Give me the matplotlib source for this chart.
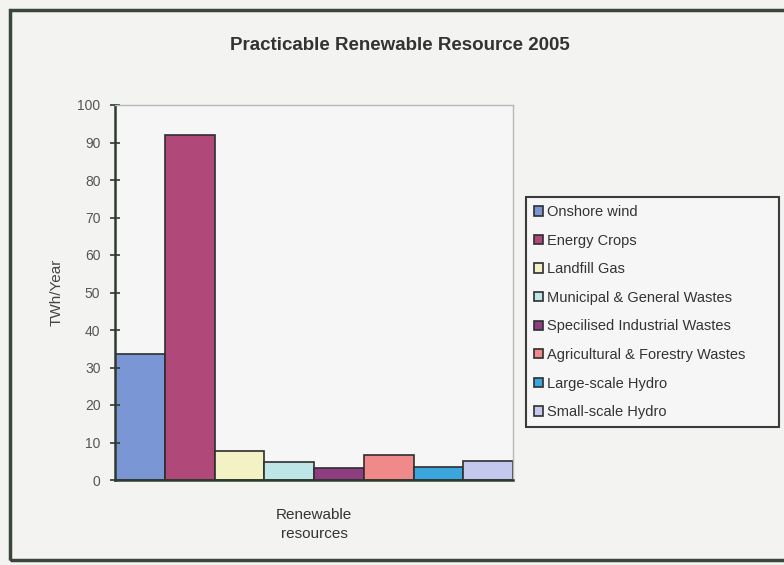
import matplotlib.pyplot as plt
from matplotlib.patches import Rectangle

# data (TWh/year)
resources = ['Onshore wind', 'Energy Crops', 'Landfill Gas',
             'Municipal & General Wastes', 'Specilised Industrial Wastes',
             'Agricultural & Forestry Wastes', 'Large-scale Hydro',
             'Small-scale Hydro']
values = [33.5, 92, 7.7, 4.8, 3.1, 6.7, 3.4, 5.2]
colors = ['#7b96d4', '#b0497a', '#f2f2c4', '#bfe6e6',
          '#8e3d80', '#f08a8a', '#3aa6dd', '#c4c8ee']
yticks = list(range(0, 101, 10))

plt.rcParams['font.family'] = ['Liberation Sans', 'DejaVu Sans']

fig = plt.figure(figsize=(7.84, 5.65), dpi=100)
fig.patch.set_facecolor('#f3f3f1')

# outer chart frame
fig.patches.append(Rectangle((10 / 784, 5 / 565), 1.0, 550 / 565,
                             transform=fig.transFigure, fill=False,
                             edgecolor='#3b463b', linewidth=2.5))

ax = fig.add_axes([115 / 784, 1 - 480 / 565, 398 / 784, 375 / 565])
ax.set_facecolor('#f6f6f6')

for i, (name, v, c) in enumerate(zip(resources, values, colors)):
    ax.bar(i, v, width=1, align='edge', color=c, edgecolor='#2e2e2e',
           linewidth=1.2, label=name)

ax.set_xlim(0, 8)
ax.set_ylim(0, 100)
ax.set_yticks(yticks)
ax.tick_params(axis='y', direction='inout', length=7, width=1.2,
               labelsize=10, labelcolor='#555555', color='#2e3a2e', pad=7)
ax.set_xticks([4])
ax.set_xticklabels(['Renewable\nresources'], fontsize=11, color='#333333',
                   linespacing=1.5)
ax.tick_params(axis='x', length=0, pad=20)

ax.spines['left'].set_color('#2e3a2e')
ax.spines['left'].set_linewidth(1.8)
ax.spines['bottom'].set_color('#2e3a2e')
ax.spines['bottom'].set_linewidth(1.8)
for s in ['top', 'right']:
    ax.spines[s].set_color('#b8b8b8')
    ax.spines[s].set_linewidth(1)

ax.set_ylabel('TWh/Year', fontsize=11, color='#444444', labelpad=10)

fig.text(400 / 784, 1 - 46 / 565, 'Practicable Renewable Resource 2005',
         ha='center', va='center', fontsize=13.5, fontweight='bold',
         color='#333333')

leg = ax.legend(loc='upper left',
                bbox_to_anchor=(526 / 784, 1 - 197 / 565, 253 / 784, 0.0),
                mode='expand', bbox_transform=fig.transFigure, fontsize=10.5,
                handlelength=0.6, handleheight=0.6, handletextpad=0.3,
                labelspacing=1.0, borderpad=0.55, borderaxespad=0,
                fancybox=False, edgecolor='#3b3b3b', framealpha=1,
                facecolor='#f6f6f6', labelcolor='#333333')
leg.get_frame().set_linewidth(1.5)

fig.savefig('out.png', dpi=100, facecolor=fig.get_facecolor())
